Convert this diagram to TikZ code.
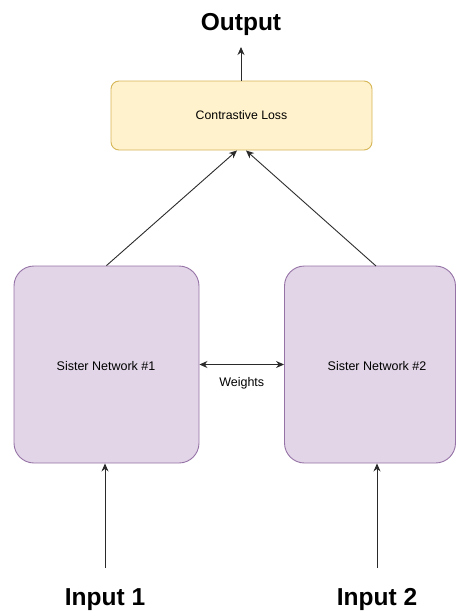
\documentclass[tikz,border=0pt]{standalone}
\usepackage{fontspec}
\setmainfont{Liberation Sans}
\usetikzlibrary{arrows.meta,calc}

\definecolor{netfill}{HTML}{E1D5E7}
\definecolor{netdraw}{HTML}{9673A6}
\definecolor{lossfill}{HTML}{FFF2CC}
\definecolor{lossdraw}{HTML}{D6B656}
\definecolor{edge}{HTML}{2A2A2A}

\tikzset{
  netbox/.style={draw=netdraw, fill=netfill, line width=0.9pt, rounded corners=20pt,
                 minimum width=#1, minimum height=197pt, inner sep=0pt},
  lossbox/.style={draw=lossdraw, fill=lossfill, line width=0.9pt, rounded corners=8pt,
                  minimum width=261pt, minimum height=69pt, inner sep=0pt,
                  font=\fontsize{12.3}{14}\selectfont},
  smalltext/.style={inner sep=0pt, font=\fontsize{12.5}{14}\selectfont},
  bigtext/.style={inner sep=0pt, anchor=base, font=\fontsize{24.5}{28}\selectfont\bfseries},
  conn/.style={draw=edge, line width=0.9pt, -{Stealth[length=8pt,width=7pt]}},
  conn2/.style={draw=edge, line width=0.9pt, {Stealth[length=8pt,width=7pt]}-{Stealth[length=8pt,width=7pt]}}
}

\begin{document}
\begin{tikzpicture}[x=1pt, y=-1pt]
  \useasboundingbox (0,0) rectangle (457,616);

  % Loss block
  \node[lossbox] (loss) at (241.5,115.5) {Contrastive Loss};

  % The two sister networks
  \node[netbox=185pt] (sis1) at (106.5,364.5) {};
  \node[netbox=171pt] (sis2) at (370,364.5) {};
  \node[smalltext] (sis1txt) at (106,366) {Sister Network \#1};
  \node[smalltext] (sis2txt) at (377,366) {Sister Network \#2};

  % Titles
  \node[bigtext] (output) at (241,30) {Output};
  \node[bigtext] (in1) at (105,605) {Input 1};
  \node[bigtext] (in2) at (377,605) {Input 2};

  % Shared-weights link
  \draw[conn2] (sis1.east) -- (sis2.west)
    node[smalltext, midway, below=12pt] (wlabel) {Weights};

  % Connectors
  \coordinate (s2top) at (376,266);
  \draw[conn] (sis1.north) -- ([xshift=-4.5pt]loss.south);
  \draw[conn] (s2top) -- ([xshift=4.5pt]loss.south);
  \coordinate (outtip) at (241,47);
  \draw[conn] (loss.north -| outtip) -- (outtip);
  \coordinate (in1top) at (105,568);
  \coordinate (in2top) at (377,568);
  \draw[conn] (in1top) -- (in1top |- sis1.south);
  \draw[conn] (in2top) -- (in2top |- sis2.south);
\end{tikzpicture}
\end{document}
